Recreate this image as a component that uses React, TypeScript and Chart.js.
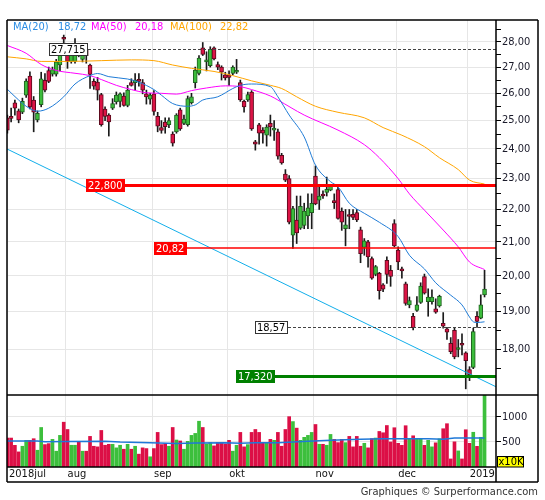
import React, { useEffect, useRef } from "react";
import { Chart, registerables } from "chart.js";

Chart.register(...registerables);

const FONT = "'DejaVu Sans Condensed', 'DejaVu Sans', sans-serif";

// ---------- data ----------
const OPEN = [25.10,25.12,25.65,25.35,25.30,25.93,26.65,25.75,25.02,25.58,26.49,26.86,26.73,26.73,27.08,28.17,27.54,27.22,27.22,27.55,27.30,27.66,27.08,26.45,26.42,25.95,25.42,25.20,25.45,25.68,25.70,25.90,25.55,26.40,26.40,26.52,26.40,25.98,25.78,25.98,25.15,24.75,24.95,24.85,24.52,24.60,25.39,24.90,24.85,25.65,26.40,26.75,27.76,27.20,27.05,27.76,27.10,27.00,26.70,26.70,26.75,26.80,26.40,25.70,25.75,26.05,24.25,24.85,24.66,24.48,24.90,24.66,24.60,23.78,23.15,23.00,21.20,21.67,21.42,21.50,21.80,21.90,23.08,22.30,22.45,22.55,22.62,22.25,22.64,21.95,21.40,21.80,21.85,21.90,21.37,20.83,21.00,20.50,20.04,20.07,19.74,20.45,20.16,21.56,20.75,20.16,19.77,19.18,18.87,19.03,19.25,19.98,19.27,19.27,19.07,19.15,18.68,18.53,18.15,18.49,17.99,18.13,17.90,17.48,17.53,18.87,18.82,19.46];
const HIGH = [25.20,25.45,25.75,25.42,25.82,26.55,26.82,25.88,25.35,26.80,26.75,27.00,27.00,27.30,27.80,28.27,27.70,27.55,28.13,27.65,27.60,27.72,27.12,26.55,26.60,26.00,25.50,25.25,25.80,26.05,26.02,26.02,26.30,26.55,26.75,26.75,26.52,26.12,26.00,26.10,25.30,25.00,25.10,25.10,24.60,25.25,25.45,25.20,25.90,26.00,27.00,27.45,27.97,27.60,27.80,27.80,27.20,27.05,26.80,26.85,27.05,27.30,26.50,25.75,26.05,26.10,24.30,24.90,24.75,24.85,25.20,25.00,24.70,23.85,23.30,23.10,22.10,22.43,22.43,22.20,22.50,22.50,23.42,22.75,22.60,23.05,22.80,22.50,22.75,22.05,22.00,22.00,22.00,22.00,21.45,21.10,21.05,20.55,20.30,20.10,19.78,20.55,20.30,21.68,20.85,20.25,19.82,19.40,18.95,19.41,19.80,20.05,19.63,19.60,19.35,19.45,18.97,18.57,18.30,18.55,18.25,18.40,17.93,17.55,18.55,19.00,19.46,20.16];
const LOW = [24.55,24.95,25.20,24.92,25.25,25.85,25.42,24.60,24.95,25.50,26.05,26.40,26.65,26.65,26.85,27.88,26.95,27.15,27.15,27.40,27.20,27.15,26.18,26.15,25.75,24.80,25.00,24.45,25.40,25.60,25.50,25.52,25.50,26.27,26.12,26.27,25.98,25.60,25.60,25.20,24.60,24.55,24.55,24.75,24.10,24.55,24.65,24.85,24.80,25.60,26.20,26.70,27.45,26.85,27.00,27.28,26.90,26.50,26.50,26.30,26.70,26.75,25.70,25.30,25.70,24.65,23.96,24.17,24.20,24.10,24.45,24.30,23.65,23.48,22.90,21.55,20.80,20.95,21.38,21.40,21.40,21.40,22.15,22.00,22.35,22.43,22.60,22.03,21.70,21.35,20.88,21.40,21.68,21.62,20.38,20.60,20.25,19.90,20.00,19.34,19.55,19.78,19.70,20.85,20.18,19.93,19.17,19.10,18.50,19.00,19.22,19.48,18.87,19.20,18.95,19.12,18.55,18.25,17.88,17.75,17.80,17.85,17.00,17.20,17.50,18.57,18.80,19.40];
const CLOSE = [24.66,25.08,25.45,25.02,25.70,26.46,25.50,25.30,25.26,26.55,26.12,26.45,26.90,27.20,27.55,28.10,27.22,27.47,27.55,27.45,27.50,27.45,26.72,26.27,26.12,24.85,25.15,24.95,25.62,25.93,25.98,25.55,26.12,26.30,26.50,26.45,26.12,25.87,25.93,25.33,24.80,24.65,24.78,25.00,24.20,25.20,24.70,25.05,25.80,25.87,26.88,27.35,27.50,27.28,27.70,27.32,27.00,26.80,26.58,26.60,27.00,26.82,25.75,25.50,25.95,24.70,24.17,24.55,24.55,24.77,24.77,24.70,23.75,23.52,22.95,21.60,22.03,21.27,22.10,21.95,22.05,22.20,22.18,22.43,22.43,22.65,22.77,22.22,21.72,21.60,21.52,21.78,21.75,21.67,20.65,21.03,20.55,19.93,20.27,19.58,19.62,20.04,19.98,20.88,20.40,20.14,19.22,19.30,18.56,19.18,19.71,19.51,19.40,19.40,18.98,19.42,18.60,18.44,17.93,17.80,18.00,18.10,17.70,17.35,18.46,18.73,19.18,19.62];
const VOLUME = [575,575,430,300,412,530,530,562,333,785,445,464,549,314,628,890,745,432,432,510,314,314,608,412,400,726,432,451,451,380,432,353,451,353,412,255,380,366,203,366,687,445,464,412,785,536,517,353,510,628,667,909,785,458,484,419,484,484,458,530,314,432,687,400,445,687,745,687,484,484,549,530,687,412,745,1000,902,772,530,589,628,687,844,451,451,432,647,549,484,549,484,608,400,608,412,471,380,562,575,706,680,824,497,780,470,430,820,560,620,560,560,430,530,400,480,560,760,860,160,500,320,160,740,470,690,410,590,1425];

const MA20_AT = [0,3,5,8,11,15,18,22,24,27,32,35,39,41,44,48,50,52,56,60,62,65,70,72,75,79,82,86,88,91,95,99,104,107,111,114,118,121,123,124,125,127];
const MA20_VALUES = [26.15,25.75,25.52,25.34,25.45,25.87,26.35,26.67,26.75,26.63,26.54,26.42,26.14,25.93,25.62,25.52,25.57,25.75,25.87,26.18,26.3,26.35,26.25,25.87,25.2,24.42,23.45,22.9,22.73,22.2,21.88,21.6,21.16,20.6,20.2,19.8,19.45,19.18,18.85,18.72,18.7,18.72];
const MA50_AT = [0,5,9,13,18,22,25,29,33,37,41,45,49,53,58,62,65,70,72,79,88,95,99,104,107,111,116,120,123,127];
const MA50_VALUES = [27.85,27.54,27.1,26.87,26.76,26.67,26.52,26.3,26.14,26.02,26.0,25.97,26.1,26.2,26.28,26.25,26.14,25.9,25.75,25.2,24.66,24.15,23.7,23.0,22.5,21.98,21.36,20.85,20.4,20.18];
const MA100_AT = [0,5,9,16,25,33,39,44,49,55,60,65,70,73,77,82,88,95,100,105,111,115,120,123,127];
const MA100_VALUES = [27.4,27.32,27.22,27.22,27.25,27.28,27.25,27.08,26.95,26.83,26.67,26.47,26.3,26.18,25.87,25.52,25.3,25.1,24.75,24.48,24.08,23.7,23.3,22.95,22.82];
const VMA_AT = [0,8,10,16,26,30,38,45,50,58,62,66,72,80,86,94,100,112,116,119,127];
const VMA_VALUES = [517,517,500,505,510,495,484,465,475,480,470,484,484,510,530,549,562,562,549,575,575];

const TREND_AT = [-0.1, 130.05];
const TREND_VALUES = [24.0, 17.05];

const MONTH_TICKS = [-0.1, 15.5, 38.5, 58.5, 81.5, 103.5, 122.5];
const MONTH_LABELS = ["2018jul", "aug", "sep", "okt", "nov", "dec", "2019"];
const PRICE_TICKS = [18, 19, 20, 21, 22, 23, 24, 25, 26, 27, 28];
const PRICE_MINOR = [17.5, 18.5, 19.5, 20.5, 21.5, 22.5, 23.5, 24.5, 25.5, 26.5, 27.5, 28.5];
const VOLUME_TICKS = [500, 1000];

const LEVEL_VALUES = [27.715, 22.8, 20.82, 18.57, 17.32];
const LEVEL_TEXTS = ["27,715", "22,800", "20,82", "18,57", "17,320"];
const LEVEL_LABEL_AT = [11.1, 20.9, 39.0, 65.9, 60.9];

// ---------- styles ----------
const LEVEL_STYLES = [
  { line: "#444", width: 1, dash: [3, 2], fill: "#fff", border: "#333", text: "#000" },
  { line: "#ff0000", width: 3, dash: [], fill: "#ff0000", border: null, text: "#fff" },
  { line: "#ff0000", width: 1.5, dash: [], fill: "#ff0000", border: null, text: "#fff" },
  { line: "#444", width: 1, dash: [3, 2], fill: "#fff", border: "#333", text: "#000" },
  { line: "#008000", width: 3, dash: [], fill: "#008000", border: null, text: "#fff" },
];
const UP = "#3cbc3c";
const DOWN = "#dc1446";
const UP_EDGE = "#1f5f1f";
const DOWN_EDGE = "#5a0a1c";
const FS = 11;

const fmt = (v: number, d: number) => v.toFixed(d).replace(".", ",");

const overlay = {
  id: "overlay",
  afterDatasetsDraw(chart: any) {
    const { ctx, chartArea, scales } = chart;
    const xs = scales.x;
    const ys = scales.y;
    ctx.save();
    ctx.font = `${FS}px ${FONT}`;
    LEVEL_VALUES.forEach((v, i) => {
      const st = LEVEL_STYLES[i];
      const py = Math.round(ys.getPixelForValue(v)) + (st.width % 2 === 1 ? 0.5 : 0);
      const bx = Math.round(xs.getPixelForValue(LEVEL_LABEL_AT[i]));
      const tw = ctx.measureText(LEVEL_TEXTS[i]).width;
      const bw = Math.ceil(tw + 4);
      const bh = 13;
      ctx.beginPath();
      ctx.setLineDash(st.dash);
      ctx.strokeStyle = st.line;
      ctx.lineWidth = st.width;
      ctx.moveTo(bx + bw, py);
      ctx.lineTo(chartArea.right, py);
      ctx.stroke();
      ctx.setLineDash([]);
      const by = Math.round(py - bh / 2);
      ctx.fillStyle = st.fill;
      ctx.fillRect(bx, by, bw, bh);
      if (st.border) {
        ctx.strokeStyle = st.border;
        ctx.lineWidth = 1;
        ctx.strokeRect(bx + 0.5, by + 0.5, bw - 1, bh - 1);
      }
      ctx.fillStyle = st.text;
      ctx.textAlign = "left";
      ctx.textBaseline = "middle";
      ctx.fillText(LEVEL_TEXTS[i], bx + 2, by + bh / 2 + 0.5);
    });
    ctx.restore();
  },
  afterDraw(chart: any) {
    const { ctx, chartArea, scales } = chart;
    const L = chartArea.left;
    const R = chartArea.right;
    const T = chartArea.top;
    const B = chartArea.bottom;
    const mid = scales.y.bottom;
    const outerR = 538;
    const outerB = 482;
    ctx.save();
    ctx.strokeStyle = "#000";
    ctx.lineWidth = 1.5;
    ctx.beginPath();
    ctx.moveTo(L, T); ctx.lineTo(outerR, T);
    ctx.moveTo(L, T); ctx.lineTo(L, outerB);
    ctx.moveTo(L, outerB); ctx.lineTo(outerR, outerB);
    ctx.moveTo(outerR, T); ctx.lineTo(outerR, outerB);
    ctx.moveTo(R, T); ctx.lineTo(R, outerB);
    ctx.moveTo(L, mid); ctx.lineTo(outerR, mid);
    ctx.moveTo(L, B); ctx.lineTo(R, B);
    ctx.stroke();

    // legend
    ctx.font = `${FS}px ${FONT}`;
    ctx.textBaseline = "middle";
    ctx.textAlign = "left";
    const legend = [
      { t: "MA(20)", x: 13, c: "#2b8de4" },
      { t: fmt(MA20_VALUES[MA20_VALUES.length - 1], 2), x: 58, c: "#2b8de4" },
      { t: "MA(50)", x: 91, c: "#ff00ff" },
      { t: fmt(MA50_VALUES[MA50_VALUES.length - 1], 2), x: 135, c: "#ff00ff" },
      { t: "MA(100)", x: 170, c: "#ffa500" },
      { t: fmt(MA100_VALUES[MA100_VALUES.length - 1], 2), x: 220, c: "#ffa500" },
    ];
    legend.forEach((l) => { ctx.fillStyle = l.c; ctx.fillText(l.t, l.x, 27); });

    // x10K box
    ctx.fillStyle = "#ffff00";
    ctx.fillRect(497.5, 456.5, 26, 10.5);
    ctx.strokeStyle = "#000";
    ctx.lineWidth = 1;
    ctx.strokeRect(497.5, 456.5, 26, 10.5);
    ctx.fillStyle = "#000";
    ctx.fillText("x10K", 498.5, 462);

    // footer
    ctx.fillStyle = "#333";
    ctx.textAlign = "right";
    ctx.fillText("Graphiques \u00a9 Surperformance.com", 538, 492);
    ctx.restore();
  },
};

export default function App() {
  const ref = useRef<HTMLCanvasElement>(null);
  useEffect(() => {
    const canvas = ref.current;
    if (!canvas) return;
    Chart.defaults.font.family = FONT;
    Chart.defaults.font.size = FS;
    const idx = OPEN.map((_, i) => i);
    const isUp = idx.map((i) => CLOSE[i] >= OPEN[i]);
    const lineDs = (label: string, xs: number[], ys: number[], color: string, axis: string, width: number, smooth: boolean) => ({
      type: "line",
      label,
      data: xs.map((x, i) => ({ x, y: ys[i] })),
      yAxisID: axis,
      borderColor: color,
      borderWidth: width,
      pointRadius: 0,
      tension: smooth ? 0.4 : 0,
      cubicInterpolationMode: smooth ? "monotone" : "default",
      order: 0,
    });
    const chart = new Chart(canvas, {
      type: "bar",
      data: {
        datasets: [
          lineDs("MA20", MA20_AT, MA20_VALUES, "#1f7bd6", "y", 1, true),
          lineDs("MA50", MA50_AT, MA50_VALUES, "#ff00ff", "y", 1, true),
          lineDs("MA100", MA100_AT, MA100_VALUES, "#ffa500", "y", 1, true),
          lineDs("trend", TREND_AT, TREND_VALUES, "#12aeea", "y", 1, false),
          {
            type: "bar",
            label: "body",
            data: idx.map((i) => ({ x: i, y: [OPEN[i], CLOSE[i]] })),
            yAxisID: "y",
            backgroundColor: idx.map((i) => (isUp[i] ? UP : DOWN)),
            borderColor: idx.map((i) => (isUp[i] ? UP_EDGE : DOWN_EDGE)),
            borderWidth: 1,
            borderSkipped: false,
            barThickness: 4,
            minBarLength: 2,
            order: 1,
          },
          {
            type: "bar",
            label: "wick",
            data: idx.map((i) => ({ x: i, y: [LOW[i], HIGH[i]] })),
            yAxisID: "y",
            backgroundColor: "#1a1a1a",
            borderWidth: 0,
            barThickness: 1,
            order: 2,
          },
          {
            type: "bar",
            label: "volume",
            data: idx.map((i) => ({ x: i, y: VOLUME[i] })),
            yAxisID: "yv",
            backgroundColor: idx.map((i) => (isUp[i] ? "#3cbf3c" : "#dc0f46")),
            borderWidth: 0,
            barThickness: 3,
            order: 3,
          },
          lineDs("vma", VMA_AT, VMA_VALUES, "#1f78d8", "yv", 1.5, false),
        ],
      },
      options: {
        animation: false,
        responsive: false,
        devicePixelRatio: 1,
        layout: { padding: { left: 7, right: 7, top: 20, bottom: 18 } },
        datasets: { bar: { grouped: false } },
        plugins: { legend: { display: false }, tooltip: { enabled: false } },
        scales: {
          x: {
            type: "linear",
            offset: false,
            min: -0.1,
            max: 130.05,
            afterBuildTicks: (s: any) => { s.ticks = MONTH_TICKS.map((v) => ({ value: v })); },
            afterFit: (s: any) => { s.height = 15; },
            ticks: {
              autoSkip: false,
              maxRotation: 0,
              align: "start",
              labelOffset: 2,
              padding: 1,
              color: "#111",
              font: { size: FS, family: FONT },
              callback: (_v: any, i: number) => MONTH_LABELS[i],
            },
            grid: { color: "#e6e6e6", drawTicks: false, lineWidth: 1, offset: false },
            border: { display: false },
          },
          y: {
            type: "logarithmic",
            position: "right",
            stack: "panels",
            stackWeight: 375,
            min: 16.85,
            max: 28.89,
            bounds: "data",
            afterBuildTicks: (s: any) => {
              s.ticks = [...PRICE_TICKS, ...PRICE_MINOR].sort((a, b) => a - b).map((v) => ({ value: v }));
            },
            afterFit: (s: any) => { s.width = 42; },
            ticks: {
              autoSkip: false,
              padding: 1,
              color: "#1a1a2a",
              font: { size: FS, family: FONT },
              callback: (v: any) => (Number.isInteger(v) ? fmt(v, 2) : ""),
            },
            grid: {
              color: (c: any) => (c.tick && Number.isInteger(c.tick.value) ? "#e6e6e6" : "rgba(0,0,0,0)"),
              tickColor: "#000",
              tickLength: 5,
              lineWidth: 1,
            },
            border: { display: false },
          },
          yv: {
            type: "linear",
            position: "right",
            stack: "panels",
            stackWeight: 72,
            min: 0,
            max: 1430,
            afterBuildTicks: (s: any) => { s.ticks = VOLUME_TICKS.map((v) => ({ value: v })); },
            afterFit: (s: any) => { s.width = 42; },
            ticks: {
              autoSkip: false,
              padding: 1,
              color: "#1a1a2a",
              font: { size: FS, family: FONT },
              callback: (v: any) => String(v),
            },
            grid: { color: "#e6e6e6", tickColor: "#000", tickLength: 5, lineWidth: 1 },
            border: { display: false },
          },
        },
      },
      plugins: [overlay],
    } as any);
    return () => chart.destroy();
  }, []);
  return (
    <div style={{ position: "absolute", left: 0, top: 0, width: 545, height: 500, background: "#fff" }}>
      <canvas ref={ref} width={545} height={500} style={{ display: "block", width: 545, height: 500 }} />
    </div>
  );
}
